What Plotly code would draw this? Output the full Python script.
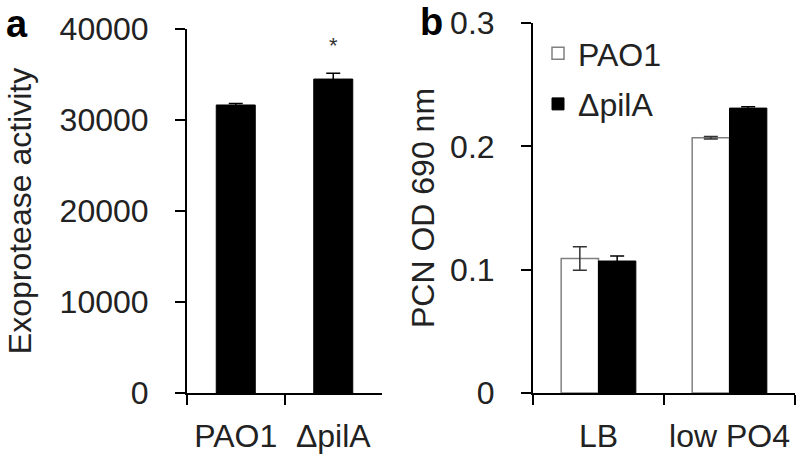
import plotly.graph_objects as go

# ---- data ----
strains = ["PAO1", "ΔpilA"]
exoprotease = [31650, 34500]
exoprotease_err = [150, 650]

media = ["LB", "low PO4"]
pcn_pao1 = [0.109, 0.207]
pcn_pao1_err = [0.0095, 0.001]
pcn_pila = [0.107, 0.231]
pcn_pila_err = [0.004, 0.001]

FONT = "Liberation Sans, Arial, sans-serif"

fig = go.Figure()

fig.add_trace(go.Bar(
    x=strains, y=exoprotease, width=0.4,
    marker=dict(color="black", line=dict(color="black", width=1)),
    error_y=dict(type="data", array=exoprotease_err, color="black", thickness=1.5, width=7),
    xaxis="x", yaxis="y", showlegend=False,
))

fig.add_trace(go.Bar(
    x=media, y=pcn_pao1, name="PAO1", legendgroup="g1",
    marker=dict(color="white", line=dict(color="#808080", width=1.5)),
    error_y=dict(type="data", array=pcn_pao1_err, color="#333333", thickness=1.5, width=7),
    xaxis="x2", yaxis="y2",
))
fig.add_trace(go.Bar(
    x=media, y=pcn_pila, name="ΔpilA", legendgroup="g2",
    marker=dict(color="black", line=dict(color="black", width=1)),
    error_y=dict(type="data", array=pcn_pila_err, color="black", thickness=1.5, width=7),
    xaxis="x2", yaxis="y2",
))

axis_common = dict(
    showline=True, linecolor="black", linewidth=2,
    ticks="outside", ticklen=10, tickwidth=2, tickcolor="black",
    showgrid=False, zeroline=False, automargin=False,
    tickfont=dict(family=FONT, size=32, color="#222"),
)

y0 = 1 - 393 / 458

fig.update_layout(
    width=800, height=458,
    margin=dict(l=0, r=0, t=0, b=0, pad=0, autoexpand=False),
    paper_bgcolor="white", plot_bgcolor="white",
    barmode="group", bargap=0.43, bargroupgap=0,
    font=dict(family=FONT, size=32, color="#222"),
    xaxis=dict(domain=[187 / 800, 382 / 800], type="category", tickson="boundaries",
               range=[-0.5, 1.5], anchor="y", ticklabelstandoff=14, **axis_common),
    yaxis=dict(domain=[y0, 1 - 29 / 458], range=[0, 40000], dtick=10000, tickformat="d",
               anchor="x", ticklabelstandoff=20,
               title=dict(text="Exoprotease activity", font=dict(family=FONT, size=32, color="#222"),
                          standoff=18),
               **axis_common),
    xaxis2=dict(domain=[533 / 800, 795 / 800], type="category", tickson="boundaries",
                range=[-0.5, 1.5], anchor="y2", ticklabelstandoff=14, **axis_common),
    yaxis2=dict(domain=[y0, 1 - 23 / 458], range=[0, 0.3], dtick=0.1, anchor="x2",
                ticklabelstandoff=20,
                title=dict(text="PCN OD 690 nm", font=dict(family=FONT, size=32, color="#222"),
                           standoff=6),
                **axis_common),
    legend=dict(x=538 / 800, y=1 - 26 / 458, xanchor="left", yanchor="top",
                bgcolor="rgba(0,0,0,0)", traceorder="grouped", tracegroupgap=6,
                font=dict(family=FONT, size=32, color="#222")),
    showlegend=True,
    shapes=[
        dict(type="line", xref="x domain", yref="y", x0=-10 / 195, x1=0, y0=0, y1=0,
             line=dict(color="black", width=2)),
        dict(type="line", xref="x2 domain", yref="y2", x0=-10 / 262, x1=0, y0=0, y1=0,
             line=dict(color="black", width=2)),
    ],
    annotations=[
        dict(text="<b>a</b>", x=4 / 800, y=1 - 24 / 458, xref="paper", yref="paper",
             xanchor="left", yanchor="middle", showarrow=False,
             font=dict(family=FONT, size=38, color="black")),
        dict(text="<b>b</b>", x=418 / 800, y=1 - 22 / 458, xref="paper", yref="paper",
             xanchor="left", yanchor="middle", showarrow=False,
             font=dict(family=FONT, size=38, color="black")),
        dict(text="*", x="ΔpilA", y=38200, xref="x", yref="y", showarrow=False,
             yanchor="middle", font=dict(family=FONT, size=22, color="#333")),
    ],
)

fig.write_html("out.html", config={"displayModeBar": False},
               post_script="document.body.style.margin='0px';")
